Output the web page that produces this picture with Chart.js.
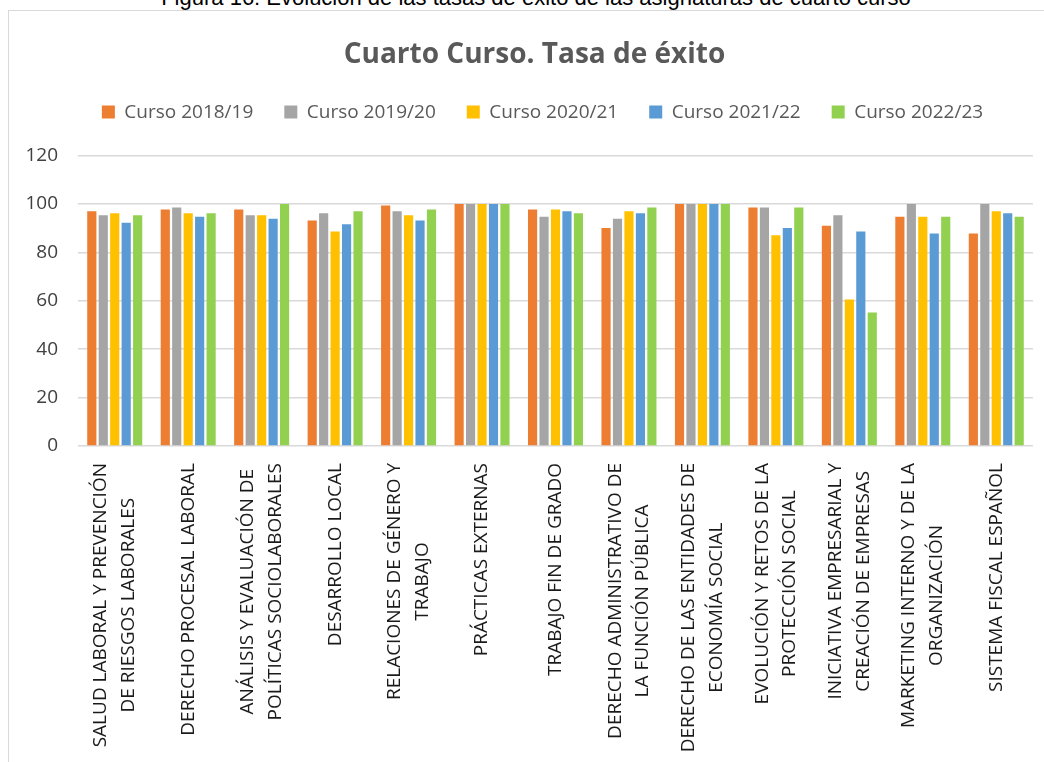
<!DOCTYPE html>
<html lang="es">
<head>
<meta charset="UTF-8">
<title>Cuarto Curso. Tasa de éxito</title>
<script src="https://cdn.jsdelivr.net/npm/chart.js"></script>
<style>
  body { margin: 0; background: #fff; overflow: hidden; }
  #caption {
    position: absolute; top: -15px; left: 0; width: 1072px;
    text-align: center; font: 22px "Liberation Sans", Arial, sans-serif; color: #000;
  }
  #frame {
    position: absolute; left: 8px; top: 10px; width: 1100px; height: 800px;
    border: 1px solid #d9d9d9;
  }
  #chart { position: absolute; left: 0; top: 0; }
</style>
</head>
<body>
<div id="caption">Figura 16: Evolución de las tasas de éxito de las asignaturas de cuarto curso</div>
<div id="frame"></div>
<canvas id="chart" width="1044" height="762"></canvas>

<script>
// asignaturas (cada una partida en las líneas que se dibujan)
const asignaturas = [
  ['SALUD LABORAL Y PREVENCIÓN', 'DE RIESGOS LABORALES'],
  ['DERECHO PROCESAL LABORAL'],
  ['ANÁLISIS Y EVALUACIÓN DE', 'POLÍTICAS SOCIOLABORALES'],
  ['DESARROLLO LOCAL'],
  ['RELACIONES DE GÉNERO Y', 'TRABAJO'],
  ['PRÁCTICAS EXTERNAS'],
  ['TRABAJO FIN DE GRADO'],
  ['DERECHO ADMINISTRATIVO DE', 'LA FUNCIÓN PÚBLICA'],
  ['DERECHO DE LAS ENTIDADES DE', 'ECONOMÍA SOCIAL'],
  ['EVOLUCIÓN Y RETOS DE LA', 'PROTECCIÓN SOCIAL'],
  ['INICIATIVA EMPRESARIAL Y', 'CREACIÓN DE EMPRESAS'],
  ['MARKETING INTERNO Y DE LA', 'ORGANIZACIÓN'],
  ['SISTEMA FISCAL ESPAÑOL']
];

const cursos = ['Curso 2018/19', 'Curso 2019/20', 'Curso 2020/21', 'Curso 2021/22', 'Curso 2022/23'];
const colores = ['#ED7D31', '#A5A5A5', '#FFC000', '#5B9BD5', '#92D050'];

// tasa de éxito (%) por curso
const tasa1819 = [97.0, 97.7, 97.7, 93.2, 99.4, 100, 97.7, 90.1, 100, 98.6, 91.0, 94.7, 87.8];
const tasa1920 = [95.4, 98.6, 95.4, 96.2, 97.0, 100, 94.7, 93.9, 100, 98.6, 95.4, 100, 100];
const tasa2021 = [96.2, 96.2, 95.4, 88.6, 95.4, 100, 97.7, 97.0, 100, 87.1, 60.5, 94.7, 97.0];
const tasa2122 = [92.3, 94.7, 93.9, 91.6, 93.2, 100, 97.0, 96.2, 100, 90.1, 88.6, 87.8, 96.2];
const tasa2223 = [95.4, 96.2, 100, 97.0, 97.7, 100, 96.2, 98.6, 100, 98.6, 55.2, 94.7, 94.7];

const yMax = 120;
const yStep = 20;

const series = [tasa1819, tasa1920, tasa2021, tasa2122, tasa2223];

// hueco extra bajo la leyenda y cabecera algo desplazada a la derecha
const cabecera = {
  id: 'cabecera',
  beforeInit(chart) {
    const fit = chart.legend.fit;
    chart.legend.fit = function () {
      fit.call(this);
      this.height += 24;
    };
  },
  afterLayout(chart) {
    chart.legend.left += 52;
    chart.titleBlock.left += 36;
  }
};

// etiquetas verticales con las líneas centradas entre sí
const etiquetasVerticales = {
  id: 'etiquetasVerticales',
  afterDraw(chart) {
    const ctx = chart.ctx;
    const xScale = chart.scales.x;
    const top = xScale.top + 17;
    const lineGap = 27.5;
    ctx.save();
    ctx.font = '19px "Open Sans"';
    ctx.fillStyle = '#1a1a1a';
    ctx.textAlign = 'center';
    ctx.textBaseline = 'middle';
    asignaturas.forEach((lines, i) => {
      const x = xScale.getPixelForTick(i);
      const w = Math.max(...lines.map(l => ctx.measureText(l).width));
      ctx.save();
      ctx.translate(x, top);
      ctx.rotate(-Math.PI / 2);
      lines.forEach((l, j) => {
        const off = (j - (lines.length - 1) / 2) * lineGap;
        ctx.fillText(l, -w / 2, off);
      });
      ctx.restore();
    });
    ctx.restore();
  }
};

new Chart(document.getElementById('chart'), {
  type: 'bar',
  data: {
    labels: asignaturas,
    datasets: cursos.map((c, i) => ({
      label: c,
      data: series[i],
      backgroundColor: colores[i],
      categoryPercentage: 0.78,
      barPercentage: 0.8
    }))
  },
  options: {
    responsive: false,
    animation: false,
    layout: { padding: { top: 20, right: 11, bottom: 0, left: 0 } },
    plugins: {
      title: {
        display: true,
        text: 'Cuarto Curso. Tasa de éxito',
        color: '#595959',
        font: { family: 'Open Sans', size: 28, weight: 'bold' },
        padding: { top: 18, bottom: 0 }
      },
      legend: {
        labels: {
          color: '#595959',
          font: { family: 'Open Sans', size: 19 },
          boxWidth: 13,
          boxHeight: 13,
          padding: 31
        }
      },
      tooltip: { enabled: false }
    },
    scales: {
      x: {
        grid: { display: false },
        border: { display: false },
        ticks: { display: false },
        afterFit(scale) { scale.height = 316; }
      },
      y: {
        min: 0,
        max: yMax,
        ticks: {
          stepSize: yStep,
          padding: 20,
          color: '#404040',
          font: { family: 'Open Sans', size: 19 }
        },
        grid: { color: '#d9d9d9', lineWidth: 1.5, drawTicks: false },
        border: { display: false },
        afterFit(scale) { scale.width = 78; }
      }
    }
  },
  plugins: [cabecera, etiquetasVerticales]
});
</script>
</body>
</html>
